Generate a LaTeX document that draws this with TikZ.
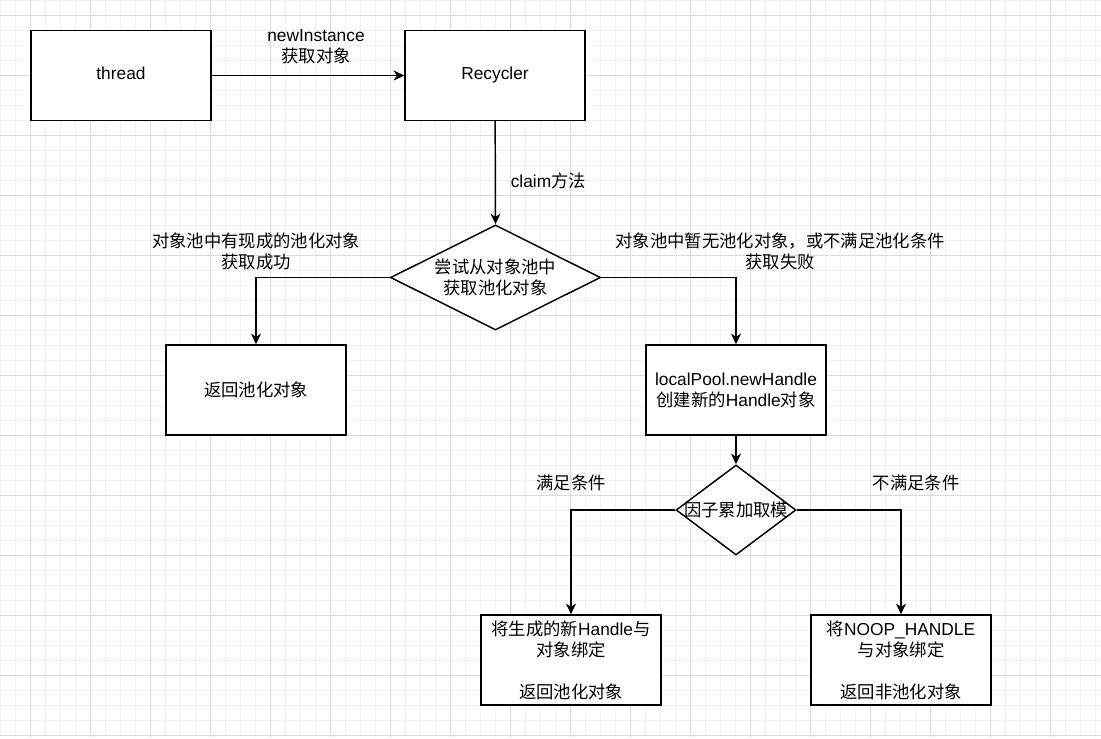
\documentclass[tikz,border=0pt]{standalone}
\usepackage{fontspec}
\setmainfont{Liberation Sans}
\newfontfamily\cjk{Noto Sans CJK SC}
\usetikzlibrary{arrows.meta,shapes.geometric}
\definecolor{gridminor}{HTML}{F1F1F1}
\definecolor{gridmajor}{HTML}{DADADA}
\begin{document}
\begin{tikzpicture}[x=0.75pt,y=-0.75pt,
  every node/.style={font=\fontsize{13}{15.75}\selectfont},
  box/.style={draw=black, line width=1.1pt, fill=white, minimum width=135pt, minimum height=67.5pt, inner sep=0pt, align=center},
  diam/.style={draw=black, line width=1.1pt, fill=white, diamond, inner sep=0pt},
  arr/.style={draw=black, line width=1.1pt, -{Stealth[length=8pt,width=7.5pt,inset=2.5pt]}},
  lbl/.style={inner sep=0pt, align=center, fill=none}
]
\useasboundingbox (0,0) rectangle (1101,739);
\fill[white] (0,0) rectangle (1101,739);
% grid
\foreach \x in {0,15,...,1095} \draw[gridminor, line width=0.75pt] (\x,0) -- (\x,737);
\foreach \y in {0,15,...,735} \draw[gridminor, line width=0.75pt] (0,\y) -- (1101,\y);
\foreach \x in {30,90,...,1050} \draw[gridmajor, line width=0.75pt] (\x,0) -- (\x,737);
\foreach \y in {15,75,...,735} \draw[gridmajor, line width=0.75pt] (0,\y) -- (1101,\y);

% nodes
\node[box] (thread) at (121,75.5) {thread\vphantom{y}};
\node[box] (rec) at (495,75.5) {Recycler};
\node[diam, minimum width=157.5pt, minimum height=78.75pt,
  label={[lbl]center:{\cjk 尝试从对象池中}\\{\cjk 获取池化对象}}] (d1) at (495.5,277.5) {};
\node[box] (ret1) at (256,390) {{\cjk 返回池化对象}};
\node[box] (newh) at (736,390) {localPool.newHandle\\{\cjk 创建新的}Handle{\cjk 对象}};
\node[diam, minimum width=90pt, minimum height=67.5pt,
  label={[lbl]center:{\cjk 因子累加取模}}] (d2) at (736,510) {};
\node[box] (bind) at (571,660) {{\cjk 将生成的新}Handle{\cjk 与}\\{\cjk 对象绑定}\\[15.75pt]{\cjk 返回池化对象}};
\node[box] (noop) at (901,660) {{\cjk 将}NOOP\_HANDLE\\{\cjk 与对象绑定}\\[15.75pt]{\cjk 返回非池化对象}};

% connectors
\draw[arr] (thread) -- node[lbl, above=8pt, xshift=6pt] {newInstance\\{\cjk 获取对象}} (rec);
\draw[arr] (rec) -- node[lbl, right=11pt, pos=0.58] {claim{\cjk 方法}} (d1.north);
\draw[arr] (d1.west) -| node[lbl, pos=0.5, above=5pt] {{\cjk 对象池中有现成的池化对象}\\{\cjk 获取成功}} (ret1.north);
\draw[arr] (d1.east) -| node[lbl, pos=0.5, above=5pt, xshift=33pt] {{\cjk 对象池中暂无池化对象，或不满足池化条件}\\{\cjk 获取失败}} (newh.north);
\draw[arr] (newh) -- (d2.north);
\draw[arr] (d2.west) -| node[lbl, pos=0.5, above=14pt] {{\cjk 满足条件}} (bind.north);
\draw[arr] (d2.east) -| node[lbl, pos=0.5, above=14pt, xshift=11.25pt] {{\cjk 不满足条件}} (noop.north);
\end{tikzpicture}
\end{document}
